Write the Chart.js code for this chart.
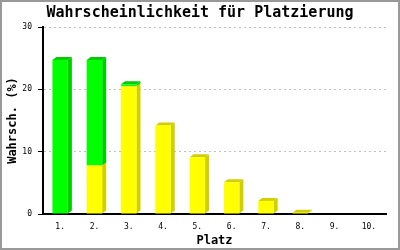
<!DOCTYPE html>
<html>
<head>
<meta charset="utf-8">
<script src="https://cdn.jsdelivr.net/npm/chart.js@4"></script>
<style>
  html, body { margin: 0; padding: 0; background: #fff; }
  #wrap { width: 400px; height: 250px; }
</style>
</head>
<body>
<div id="wrap"><canvas id="chart"></canvas></div>
<script>
// Placement probabilities
const places = ['1.', '2.', '3.', '4.', '5.', '6.', '7.', '8.', '9.', '10.'];
const yellowValues = [0, 7.8, 20.5, 14.2, 9.1, 5.1, 2.1, 0.2, 0, 0];
const greenValues = [24.7, 16.9, 0.3, 0, 0, 0, 0, 0, 0, 0];
const yTicks = [0, 10, 20, 30];
const chartTitle = 'Wahrscheinlichkeit für Platzierung';

const MONO = "'DejaVu Sans Mono', 'Liberation Mono', monospace";

// Fake 3D: side and top faces drawn behind the bar fronts
const depthPlugin = {
  id: 'depth',
  beforeDatasetsDraw(chart) {
    const ctx = chart.ctx;
    const dx = 4, dy = 3;
    const n = chart.data.datasets.length;
    chart.data.datasets.forEach((ds, di) => {
      const meta = chart.getDatasetMeta(di);
      meta.data.forEach((bar, i) => {
        if (!ds.data[i]) return;
        const { x, y, base, width } = bar.getProps(['x', 'y', 'base', 'width'], true);
        const left = x - width / 2, right = x + width / 2;
        ctx.save();
        ctx.fillStyle = ds.sideColor;
        ctx.beginPath();
        ctx.moveTo(right, y);
        ctx.lineTo(right + dx, y - dy);
        ctx.lineTo(right + dx, base - dy);
        ctx.lineTo(right, base);
        ctx.closePath();
        ctx.fill();
        // top face only if nothing is stacked above
        let onTop = true;
        for (let k = di + 1; k < n; k++) {
          if (chart.data.datasets[k].data[i]) onTop = false;
        }
        if (onTop) {
          ctx.beginPath();
          ctx.moveTo(left, y);
          ctx.lineTo(left + dx, y - dy);
          ctx.lineTo(right + dx, y - dy);
          ctx.lineTo(right, y);
          ctx.closePath();
          ctx.fill();
        }
        ctx.restore();
      });
    });
  }
};

// Title centred on the full canvas + grey frame
const framePlugin = {
  id: 'frame',
  afterDraw(chart) {
    const ctx = chart.ctx;
    ctx.save();
    ctx.fillStyle = '#000';
    ctx.font = 'bold 15px ' + MONO;
    ctx.textAlign = 'center';
    ctx.textBaseline = 'middle';
    ctx.fillText(chartTitle, chart.width / 2, 13);
    ctx.strokeStyle = '#999999';
    ctx.lineWidth = 2;
    ctx.strokeRect(1, 1, chart.width - 2, chart.height - 2);
    ctx.restore();
  }
};

new Chart(document.getElementById('chart'), {
  type: 'bar',
  data: {
    labels: places,
    datasets: [
      {
        label: 'gelb',
        data: yellowValues,
        backgroundColor: '#ffff00',
        sideColor: '#d0d000',
        barPercentage: 0.45,
        categoryPercentage: 1
      },
      {
        label: 'grün',
        data: greenValues,
        backgroundColor: '#00ff00',
        sideColor: '#00cc00',
        barPercentage: 0.45,
        categoryPercentage: 1
      }
    ]
  },
  options: {
    responsive: true,
    maintainAspectRatio: false,
    animation: false,
    layout: { padding: { left: 0, right: 14, top: 27, bottom: 0 } },
    plugins: {
      legend: { display: false },
      tooltip: { enabled: false },
      title: { display: false }
    },
    scales: {
      x: {
        stacked: true,
        grid: { display: false },
        border: { color: '#000', width: 2 },
        ticks: {
          color: '#000',
          padding: 0,
          font: { family: MONO, size: 8 }
        },
        title: {
          display: true,
          text: 'Platz',
          color: '#000',
          font: { family: MONO, size: 12, weight: 'bold' },
          padding: { top: 0, bottom: 2 }
        },
        afterFit: (scale) => { scale.height = 36; }
      },
      y: {
        stacked: true,
        min: 0,
        max: 30,
        afterBuildTicks: (scale) => { scale.ticks = yTicks.map(v => ({ value: v })); },
        grid: {
          color: '#c0c0c0',
          tickColor: '#000',
          tickBorderDash: [],
          tickLength: 5
        },
        border: { color: '#000', width: 2, dash: [2, 3] },
        ticks: {
          color: '#000',
          padding: 6,
          font: { family: MONO, size: 8 }
        },
        title: {
          display: true,
          text: 'Wahrsch. (%)',
          color: '#000',
          font: { family: MONO, size: 12, weight: 'bold' },
          padding: { top: 6, bottom: 0 }
        },
        afterFit: (scale) => { scale.width = 43; }
      }
    }
  },
  plugins: [depthPlugin, framePlugin]
});
</script>
</body>
</html>
